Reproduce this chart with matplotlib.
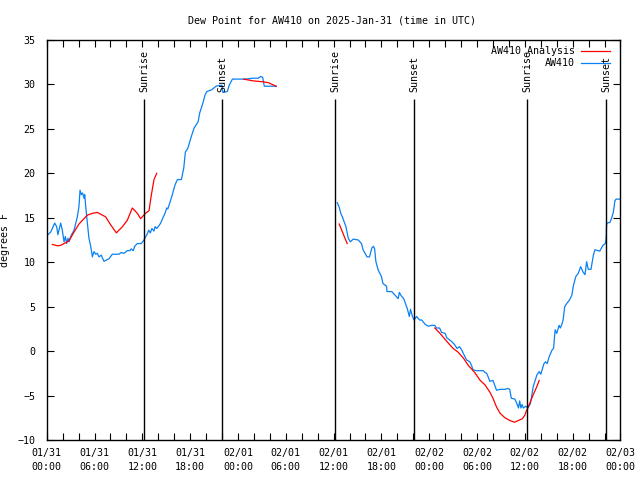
#!/usr/bin/env python3
"""
    Dew point for AW410, observations vs analysis, with sunrise/sunset marks
"""
import matplotlib
matplotlib.use('Agg')
import matplotlib.pyplot as plt

# hours since 2025-01-31 00:00 UTC, dew point in degrees F
obs_hours_1 = [0.0, 0.16, 0.5, 1.0, 1.25, 1.4, 1.75, 1.96, 2.17, 2.34, 2.5,
               2.67, 2.8, 3.0, 3.43, 3.84, 4.05, 4.18, 4.34, 4.5, 4.68, 4.77,
               4.89, 5.1, 5.3, 5.52, 5.73, 5.93, 6.14, 6.35, 6.56, 6.85, 6.98,
               7.19, 7.4, 7.82, 8.23, 8.65, 9.07, 9.36, 9.7, 10.1, 10.45,
               10.6, 10.86, 11.04, 11.37, 11.87, 12.2, 12.62, 12.8, 13.0,
               13.2, 13.45, 13.6, 13.8, 14.0, 14.3, 14.63, 14.84, 15.06, 15.2,
               15.7, 16.1, 16.4, 16.9, 17.2, 17.4, 17.7, 18.2, 18.5, 19.0,
               19.2, 19.6, 19.86, 20.1, 20.7, 21.25, 21.75, 22.0, 22.1, 22.66,
               22.9, 23.3, 24.2, 24.9, 25.9, 26.55, 26.85, 27.1, 27.3, 28.8]
obs_values_1 = [13.0, 13.1, 13.4, 14.4, 14.0, 13.1, 14.4, 13.6, 12.3, 12.9,
                12.1, 12.7, 12.3, 12.9, 13.6, 15.1, 16.3, 18.1, 17.6, 17.8,
                17.2, 17.6, 16.3, 14.4, 12.7, 11.8, 10.6, 11.2, 10.9, 11.0,
                10.6, 10.8, 10.5, 10.1, 10.2, 10.4, 10.9, 10.9, 10.9, 11.1,
                11.0, 11.3, 11.3, 11.5, 11.3, 11.8, 12.1, 12.1, 12.5, 13.2,
                13.6, 13.3, 13.8, 13.5, 14.0, 13.8, 14.0, 14.4, 15.1, 15.5,
                16.1, 16.0, 17.4, 18.7, 19.3, 19.3, 20.6, 22.4, 22.8, 24.3,
                25.1, 25.8, 26.8, 27.9, 28.8, 29.2, 29.4, 29.8, 29.9, 29.9,
                29.1, 29.2, 29.9, 30.6, 30.6, 30.6, 30.7, 30.7, 30.9, 30.8,
                29.8, 29.8]

obs_hours_2 = [36.46, 36.7, 36.9, 37.1, 37.3, 37.55, 37.84, 38.1, 38.47, 39.1,
               39.5, 39.7, 40.2, 40.5, 40.8, 41.0, 41.15, 41.3, 41.6, 42.0,
               42.2, 42.65, 42.7, 43.3, 43.7, 44.1, 44.25, 44.5, 44.8, 45.0,
               45.24, 45.5, 45.65, 45.9, 46.1, 46.4, 46.8, 47.05, 47.5, 47.9,
               48.3, 48.7, 48.9, 49.3, 49.56, 50.0, 50.2, 50.5, 50.8, 51.2,
               51.5, 51.8, 52.1, 52.3, 52.7, 53.1, 53.3, 53.5, 53.9, 54.8,
               55.0, 55.2, 55.4, 55.6, 56.0, 56.45, 56.9, 57.5, 57.9, 58.1,
               58.3, 58.75, 59.0, 59.2, 59.35, 59.5, 59.65, 59.8, 60.1, 60.4,
               60.7, 61.05, 61.5, 61.8, 62.0, 62.4, 62.6, 62.8, 63.06, 63.4,
               63.6, 63.8, 64.0, 64.3, 64.45, 64.6, 64.8, 65.0, 65.3, 65.6,
               65.9, 66.1, 66.4, 66.7, 67.0, 67.3, 67.55, 67.75, 67.96, 68.3,
               68.6, 68.8, 69.4, 69.8, 70.1, 70.2, 70.25, 70.33, 70.7, 70.9,
               71.1, 71.3, 71.45, 71.9]
obs_values_2 = [16.7, 16.2, 15.5, 15.1, 14.6, 14.0, 12.7, 12.3, 12.6, 12.5,
                12.1, 11.4, 10.6, 10.6, 11.6, 11.8, 11.5, 10.1, 9.1, 8.4, 7.6,
                7.3, 6.7, 6.7, 6.3, 5.9, 6.6, 6.2, 5.9, 5.4, 4.8, 3.9, 4.7,
                3.9, 3.5, 3.9, 3.5, 3.5, 3.0, 2.8, 2.9, 2.9, 2.6, 2.6, 2.1,
                2.0, 1.5, 1.3, 1.1, 0.7, 0.3, 0.5, 0.1, -0.3, -1.0, -1.2, -1.6,
                -2.1, -2.2, -2.2, -2.4, -2.5, -2.9, -3.4, -3.3, -4.4, -4.3,
                -4.3, -4.2, -4.3, -5.3, -5.4, -5.9, -6.4, -5.6, -6.4, -6.0,
                -6.4, -6.2, -6.4, -5.9, -4.0, -2.7, -2.3, -2.6, -1.4, -1.2,
                -1.4, -0.6, 0.1, 0.3, 2.4, 2.0, 2.9, 2.6, 2.9, 3.5, 5.0, 5.4,
                5.75, 6.3, 7.4, 8.4, 8.75, 9.5, 8.9, 8.6, 10.06, 9.2, 9.2,
                10.8, 11.4, 11.25, 11.9, 12.1, 12.7, 14.2, 14.4, 14.5, 15.0,
                15.6, 16.9, 17.1, 17.1]

ana_hours_1 = [0.7, 1.33, 1.75, 2.38, 2.8, 3.43, 4.05, 4.68, 5.1, 5.73, 6.35,
               6.77, 7.4, 8.03, 8.74, 9.5, 10.1, 10.74, 11.37, 11.78, 12.4,
               12.84, 13.1, 13.46, 13.8]
ana_values_1 = [12.0, 11.85, 11.9, 12.2, 12.4, 13.4, 14.3, 14.9, 15.3, 15.5,
                15.6, 15.4, 15.1, 14.2, 13.3, 14.0, 14.7, 16.1, 15.5, 14.9,
                15.5, 15.8, 17.4, 19.3, 20.0]
ana_hours_2 = [24.7, 25.9, 27.1, 27.8, 28.3, 28.8]
ana_values_2 = [30.6, 30.4, 30.3, 30.2, 30.0, 29.8]
ana_hours_3 = [36.7, 37.7]
ana_values_3 = [14.3, 12.1]
ana_hours_4 = [48.7, 49.35, 50.2, 51.0, 51.6, 52.3, 52.9, 53.7, 54.4, 55.0,
               55.6, 56.0, 56.45, 56.9, 57.5, 58.1, 58.7, 59.2, 59.7, 60.0,
               60.2, 60.6, 61.05, 61.5, 61.8]
ana_values_4 = [2.6, 2.0, 1.1, 0.3, -0.1, -0.8, -1.6, -2.4, -3.3, -3.8, -4.6,
                -5.3, -6.3, -7.0, -7.5, -7.8, -8.0, -7.8, -7.6, -7.2, -6.7,
                -5.9, -4.9, -4.0, -3.3]

sun_hours = [12.25, 22.03, 36.2, 46.1, 60.3, 70.2]
sun_names = ['Sunrise', 'Sunset', 'Sunrise', 'Sunset', 'Sunrise', 'Sunset']

tick_hours = list(range(0, 73, 6))
tick_labels = ['01/31\n00:00', '01/31\n06:00', '01/31\n12:00', '01/31\n18:00',
               '02/01\n00:00', '02/01\n06:00', '02/01\n12:00', '02/01\n18:00',
               '02/02\n00:00', '02/02\n06:00', '02/02\n12:00', '02/02\n18:00',
               '02/03\n00:00']

plt.rcParams['font.family'] = 'DejaVu Sans Mono'
plt.rcParams['font.size'] = 7.2

fig = plt.figure(figsize=(6.4, 4.8), dpi=100)
ax = fig.add_axes([0.073, 0.0833, 0.8965, 0.8334])

blue = '#0a80f5'
red = '#ff0000'
ax.plot(obs_hours_1, obs_values_1, color=blue, lw=0.9)
ax.plot(obs_hours_2, obs_values_2, color=blue, lw=0.9)
for h, v in [(ana_hours_1, ana_values_1), (ana_hours_2, ana_values_2),
             (ana_hours_3, ana_values_3), (ana_hours_4, ana_values_4)]:
    ax.plot(h, v, color=red, lw=0.9)

ax.vlines(sun_hours, -10, 28.4, color='black', lw=1.0)
for h, name in zip(sun_hours, sun_names):
    ax.text(h, 29.1, name, rotation=90, ha='center', va='bottom')

ax.set_xlim(0, 72)
ax.set_ylim(-10, 35)
ax.set_xticks(tick_hours)
ax.set_xticklabels(tick_labels, linespacing=1.4)
ax.set_xticks(range(0, 73, 2), minor=True)
ax.set_yticks(range(-10, 36, 5))
ax.tick_params(which='both', direction='in', top=True, right=True,
               length=5, width=0.8)
ax.tick_params(axis='x', pad=6)
ax.tick_params(axis='y', pad=8)
for s in ax.spines.values():
    s.set_linewidth(1.0)

ax.set_ylabel('degrees F')
ax.yaxis.set_label_coords(-0.064, 0.5)

fig.text(0.519, 0.958, 'Dew Point for AW410 on 2025-Jan-31 (time in UTC)',
         ha='center', va='center')

# legend drawn gnuplot style: right aligned text, sample to the right
for i, (name, col) in enumerate([('AW410 Analysis', red), ('AW410', blue)]):
    y = 0.973 - i * 0.0315
    ax.text(0.9207, y, name, transform=ax.transAxes, ha='right', va='center')
    ax.plot([0.9312, 0.9817], [y, y], color=col, lw=0.9,
            transform=ax.transAxes)

fig.savefig('out.png', dpi=100)
